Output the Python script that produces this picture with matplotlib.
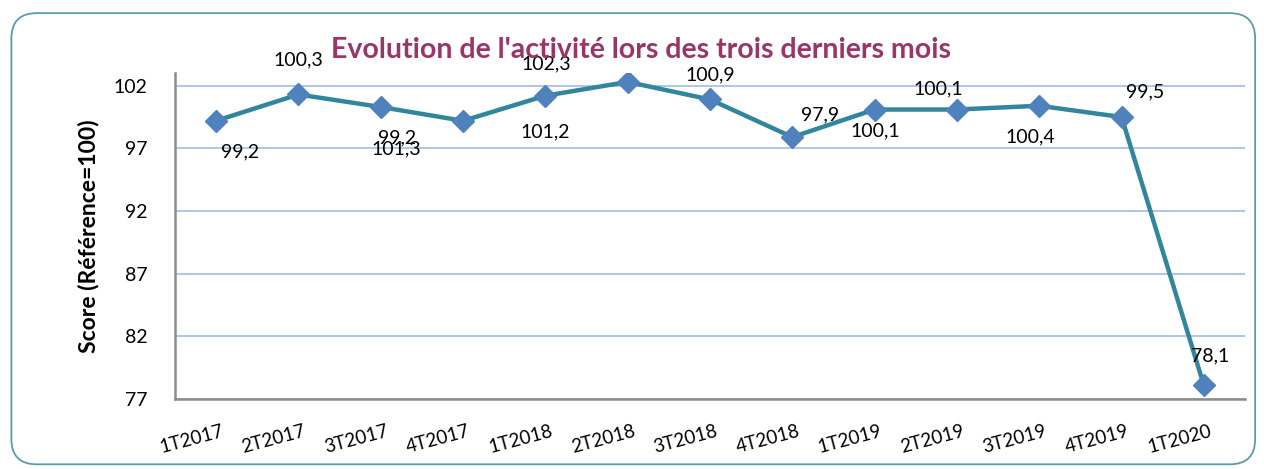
import matplotlib.pyplot as plt
from matplotlib.patches import FancyBboxPatch

quarters = ['1T2017', '2T2017', '3T2017', '4T2017', '1T2018', '2T2018', '3T2018',
            '4T2018', '1T2019', '2T2019', '3T2019', '4T2019', '1T2020']
scores = [99.2, 101.3, 100.3, 99.2, 101.2, 102.3, 100.9, 97.9, 100.1, 100.1, 100.4, 99.5, 78.1]
# labels as shown on the original chart (some are swapped)
labels = ['99,2', '100,3', '101,3', '99,2', '101,2', '102,3', '100,9',
          '97,9', '100,1', '100,1', '100,4', '99,5', '78,1']
yticks = [77, 82, 87, 92, 97, 102]

plt.rcParams['font.family'] = ['Lato', 'DejaVu Sans']

fig = plt.figure(figsize=(12.64, 4.69), dpi=100)
fig.patches.append(FancyBboxPatch((0.009, 0.01), 0.984, 0.962, boxstyle='round,pad=0,rounding_size=0.02',
                                  transform=fig.transFigure, fill=False, edgecolor='#5b9bb0', lw=1.3,
                                  mutation_aspect=1264 / 469))
ax = fig.add_axes([0.1384, 0.149, 0.8466, 0.695])

x = list(range(len(quarters)))
ax.plot(x, scores, color='#31859c', lw=3.2, marker='D', ms=11,
        mfc='#4f81bd', mec='#4f81bd', zorder=3)

# label offsets in pixels (dx, dy)
offs = [(24, -31), (0, 35), (16, -42), (-66, -17), (0, -36), (-81, 18), (0, 25),
        (28, 22), (1, -21), (-19, 21), (-9, -31), (24, 25), (6, 29)]
for i, (lab, o) in enumerate(zip(labels, offs)):
    ax.annotate(lab, (i, scores[i]), xytext=o, textcoords='offset pixels',
                ha='center', va='center', fontsize=14, color='black', zorder=4)

ax.set_xlim(-0.5, len(quarters) - 0.5)
ax.set_ylim(77, 103)
ax.set_yticks(yticks)
# labels sit a bit left of their points in the original
ax.set_xticks([i - 0.3 for i in x])
ax.set_xticklabels(quarters, rotation=15, fontsize=13.5)
ax.tick_params(axis='y', labelsize=14, length=0, pad=20)
ax.tick_params(axis='x', length=0, pad=17)
ax.grid(axis='y', color='#a9c0e8', lw=1.3)
ax.set_axisbelow(True)
for s in ['top', 'right']:
    ax.spines[s].set_visible(False)
for s in ['left', 'bottom']:
    ax.spines[s].set_color('#8c8c8c')
    ax.spines[s].set_linewidth(1.8)

ax.set_ylabel('Score (Référence=100)', fontsize=16.5, fontweight='bold', labelpad=10)
fig.text(0.507, 0.893, "Evolution de l'activité lors des trois derniers mois",
         ha='center', va='center', fontsize=20.5, fontweight='bold', color='#9b3467')

fig.savefig('out.png', dpi=100)
